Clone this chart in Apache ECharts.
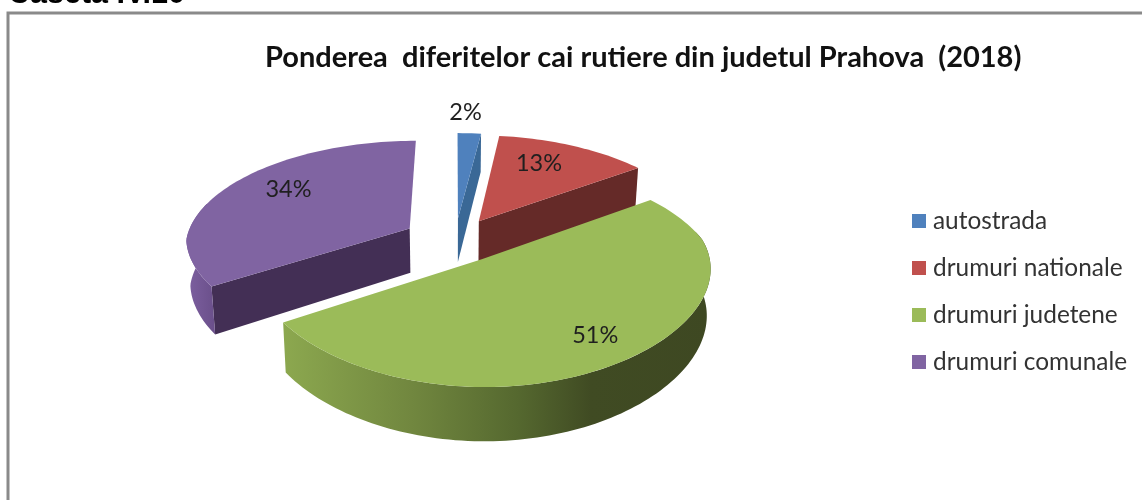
<!DOCTYPE html>
<html>
<head>
<meta charset="utf-8">
<style>html,body{margin:0;padding:0;background:#fff}#c{width:1142px;height:500px}</style>
<script src="https://cdn.jsdelivr.net/npm/echarts@6/dist/echarts.min.js"></script>
</head>
<body>
<div id="c"></div>
<script>
const categories = ['autostrada', 'drumuri nationale', 'drumuri judetene', 'drumuri comunale'];
const shares = [2, 13, 51, 34];
const chartTitle = 'Ponderea  diferitelor cai rutiere din judetul Prahova  (2018)';
const caption = 'Caseta IV.10';

const topColors = ['#4f81bd', '#c0504d', '#9bbb59', '#8064a2'];
const cutColors = ['#3a6896', '#652a28', '#66793a', '#432f55'];
const rimStops = [
  [[0, '#3a6896'], [1, '#3a6896']],
  [[0, '#652a28'], [1, '#652a28']],
  [[0, '#8ca84f'], [0.3, '#71873f'], [0.55, '#55682f'], [0.72, '#404b23'], [1, '#3e4822']],
  [[0, '#7d60a0'], [1, '#6a4f8a']]
];
const drawOrder = [0, 1, 3, 2];
const labelReach = [1.28, 0.72, 0.79, 0.73];
const labelTurn = [-1.6, -4.6, -1.8, 5.9];
const blasts = [0.215, 0.215, 0.215, 0.235];

const view = {cx: 455, cy: 240, a: 224, b: 103.5, kBack: 0.16, kFront: 0.08, ky: 0.145, depth: 45, shrink: 0.985};
const total = shares.reduce((s, v) => s + v, 0);
const rad = d => d * Math.PI / 180;

function project(X, Z, lower) {
  const sx = 1 / (1 - (Z < 0 ? view.kBack : view.kFront) * Z), sy = 1 / (1 - view.ky * Z);
  let x = view.a * X * sx, y = view.b * Z * sy;
  if (lower) { x *= view.shrink; y += view.depth * sy; }
  return [view.cx + x, view.cy + y];
}
function rimPoint(deg, mid, blast, r, lower) {
  const ox = blast * Math.sin(rad(mid)), oz = -blast * Math.cos(rad(mid));
  return project(ox + r * Math.sin(rad(deg)), oz - r * Math.cos(rad(deg)), lower);
}
function arc(from, to, mid, blast, lower) {
  const n = Math.max(2, Math.ceil(Math.abs(to - from) / 1.5)), out = [];
  for (let i = 0; i <= n; i++) out.push(rimPoint(from + (to - from) * i / n, mid, blast, 1, lower));
  return out;
}

function renderSlice(idx) {
  return function (params, api) {
    const value = api.value(0), blast = blasts[idx];
    const before = shares.slice(0, idx).reduce((s, v) => s + v, 0);
    const start = before / total * 360, end = start + value / total * 360, mid = (start + end) / 2;
    const apex = rimPoint(0, mid, blast, 0, false), apexLow = rimPoint(0, mid, blast, 0, true);
    const children = [];
    [[start, start - 90], [end, end + 90]].forEach(([deg, normal]) => {
      if (-Math.cos(rad(normal)) > 0.01) {
        children.push({type: 'polygon', shape: {points: [apex, rimPoint(deg, mid, blast, 1, false), rimPoint(deg, mid, blast, 1, true), apexLow]},
          style: {fill: cutColors[idx]}});
      }
    });
    const rf = Math.max(start, 75), rt = Math.min(end, 285);
    if (rt > rf) {
      children.push({type: 'polygon',
        shape: {points: arc(rf, rt, mid, blast, false).concat(arc(rf, rt, mid, blast, true).reverse())},
        style: {fill: new echarts.graphic.LinearGradient(0, 0, 1, 0, rimStops[idx].map(s => ({offset: s[0], color: s[1]})))}});
    }
    children.push({type: 'polygon', shape: {points: [apex].concat(arc(start, end, mid, blast, false))}, style: {fill: topColors[idx]}});
    const lp = rimPoint(mid + labelTurn[idx], mid, blast, labelReach[idx], false);
    children.push({type: 'text', style: {text: value + '%', x: lp[0], y: lp[1], align: 'center', verticalAlign: 'middle',
      font: '23.5px Lato', fill: '#1f1f1f'}});
    return {type: 'group', children};
  };
}

const chart = echarts.init(document.getElementById('c'), null, {renderer: 'canvas'});
chart.setOption({
  animation: false,
  backgroundColor: '#ffffff',
  title: {text: chartTitle, left: 260, top: 38, textStyle: {fontFamily: 'Lato', fontWeight: 'bold', fontSize: 29, color: '#111111'}},
  legend: {
    data: categories, orient: 'vertical', left: 907, top: 204, itemWidth: 14, itemHeight: 14, itemGap: 23,
    icon: 'rect', selectedMode: false, textStyle: {fontFamily: 'Lato', fontSize: 24.4, color: '#333333', padding: [0, 0, 0, 2]}
  },
  graphic: [
    {type: 'rect', z: 0, shape: {x: 8, y: 13, width: 1300, height: 700}, style: {fill: 'none', stroke: '#8a8a8a', lineWidth: 3}},
    {type: 'text', z: 1, x: 8, y: -21, style: {text: caption, font: 'bold 30.5px "Liberation Sans"', fill: '#000'}}
  ],
  series: drawOrder.map(i => ({
    type: 'custom', name: categories[i], coordinateSystem: 'none', silent: true,
    itemStyle: {color: topColors[i]}, renderItem: renderSlice(i), data: [[shares[i]]]
  }))
});
</script>
</body>
</html>
